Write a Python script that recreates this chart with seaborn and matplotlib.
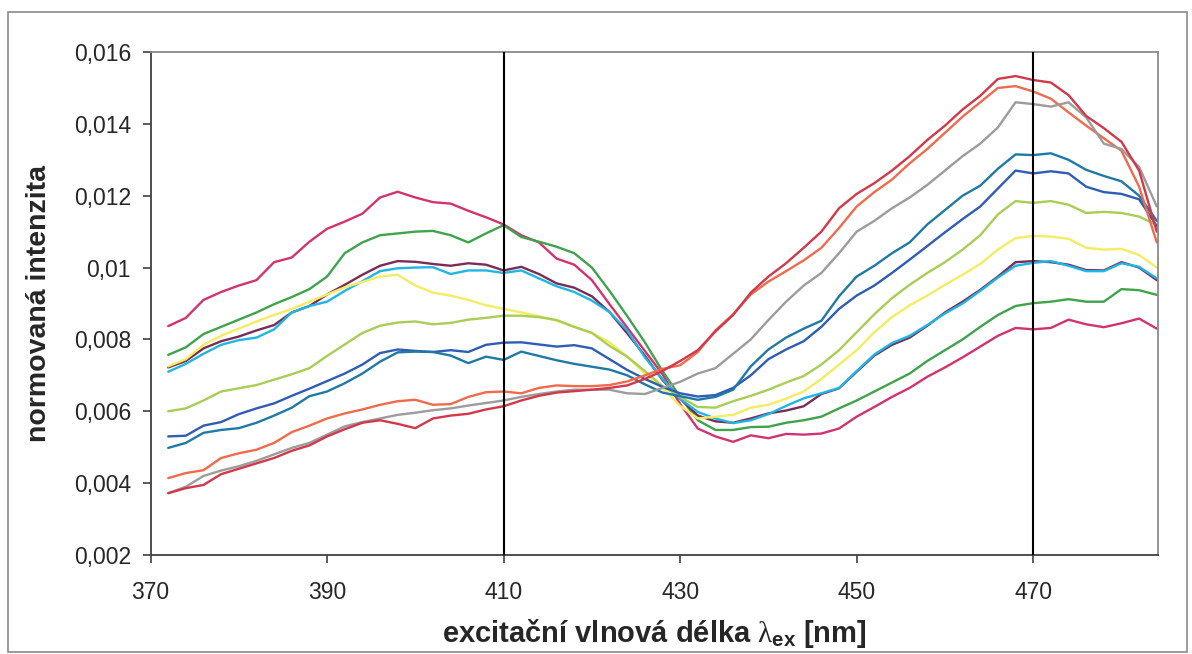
import numpy as np
import pandas as pd
import matplotlib
matplotlib.use("Agg")
import matplotlib.pyplot as plt
import seaborn as sns

# ---------------- data ----------------
wavelength = list(range(372, 486, 2))  # 372 ... 484 nm

magenta = [0.00837, 0.00860, 0.00910, 0.00932, 0.00950, 0.00965, 0.01015, 0.01028, 0.01072, 0.01108,
           0.01128, 0.01150, 0.01195, 0.01211, 0.01195, 0.01182, 0.01178, 0.01158, 0.01140, 0.01120,
           0.01090, 0.01070, 0.01025, 0.01008, 0.00965, 0.00898, 0.00833, 0.00768, 0.00703, 0.00620,
           0.00552, 0.00530, 0.00515, 0.00533, 0.00525, 0.00537, 0.00535, 0.00538, 0.00552, 0.00585,
           0.00612, 0.00640, 0.00665, 0.00696, 0.00722, 0.00750, 0.00780, 0.00810, 0.00832, 0.00828,
           0.00832, 0.00855, 0.00842, 0.00834, 0.00845, 0.00858, 0.00830]
green = [0.00757, 0.00778, 0.00815, 0.00835, 0.00855, 0.00875, 0.00898, 0.00918, 0.00940, 0.00975,
         0.01040, 0.01070, 0.01090, 0.01095, 0.01100, 0.01102, 0.01090, 0.01070, 0.01095, 0.01118,
         0.01085, 0.01072, 0.01058, 0.01040, 0.01000, 0.00935, 0.00865, 0.00792, 0.00712, 0.00640,
         0.00575, 0.00548, 0.00548, 0.00556, 0.00557, 0.00568, 0.00575, 0.00585, 0.00608, 0.00630,
         0.00655, 0.00680, 0.00705, 0.00740, 0.00770, 0.00800, 0.00835, 0.00868, 0.00893, 0.00901,
         0.00905, 0.00912, 0.00905, 0.00905, 0.00940, 0.00937, 0.00924]
purple = [0.00722, 0.00740, 0.00775, 0.00795, 0.00808, 0.00825, 0.00840, 0.00875, 0.00893, 0.00925,
          0.00952, 0.00980, 0.01005, 0.01018, 0.01016, 0.01010, 0.01005, 0.01012, 0.01008, 0.00992,
          0.01002, 0.00982, 0.00956, 0.00944, 0.00920, 0.00876, 0.00817, 0.00755, 0.00687, 0.00635,
          0.00588, 0.00572, 0.00568, 0.00580, 0.00594, 0.00602, 0.00614, 0.00648, 0.00664, 0.00710,
          0.00755, 0.00785, 0.00805, 0.00838, 0.00875, 0.00905, 0.00938, 0.00975, 0.01015, 0.01018,
          0.01015, 0.01008, 0.00993, 0.00992, 0.01015, 0.01000, 0.00965]
cyan = [0.00710, 0.00732, 0.00760, 0.00785, 0.00798, 0.00805, 0.00828, 0.00875, 0.00893, 0.00905,
        0.00935, 0.00962, 0.00990, 0.00998, 0.01000, 0.01001, 0.00982, 0.00992, 0.00992, 0.00985,
        0.00992, 0.00970, 0.00948, 0.00932, 0.00908, 0.00876, 0.00825, 0.00750, 0.00690, 0.00635,
        0.00598, 0.00580, 0.00567, 0.00575, 0.00592, 0.00615, 0.00636, 0.00650, 0.00665, 0.00712,
        0.00758, 0.00790, 0.00810, 0.00840, 0.00872, 0.00900, 0.00935, 0.00972, 0.01005, 0.01013,
        0.01018, 0.01005, 0.00990, 0.00990, 0.01012, 0.01002, 0.00970]
yellow = [0.00725, 0.00745, 0.00785, 0.00810, 0.00830, 0.00850, 0.00868, 0.00885, 0.00905, 0.00925,
          0.00945, 0.00960, 0.00975, 0.00980, 0.00950, 0.00930, 0.00922, 0.00910, 0.00895, 0.00885,
          0.00875, 0.00865, 0.00852, 0.00835, 0.00818, 0.00792, 0.00752, 0.00705, 0.00665, 0.00615,
          0.00580, 0.00585, 0.00590, 0.00610, 0.00618, 0.00635, 0.00655, 0.00690, 0.00730, 0.00770,
          0.00820, 0.00862, 0.00895, 0.00922, 0.00952, 0.00980, 0.01010, 0.01050, 0.01082, 0.01088,
          0.01086, 0.01080, 0.01055, 0.01050, 0.01052, 0.01035, 0.01000]
yellowgreen = [0.00600, 0.00608, 0.00630, 0.00655, 0.00664, 0.00673, 0.00688, 0.00703, 0.00720, 0.00754,
               0.00786, 0.00818, 0.00838, 0.00847, 0.00850, 0.00842, 0.00846, 0.00855, 0.00860, 0.00866,
               0.00866, 0.00862, 0.00854, 0.00835, 0.00818, 0.00782, 0.00752, 0.00712, 0.00670, 0.00640,
               0.00612, 0.00610, 0.00628, 0.00643, 0.00660, 0.00680, 0.00698, 0.00730, 0.00770, 0.00820,
               0.00870, 0.00915, 0.00952, 0.00985, 0.01015, 0.01050, 0.01090, 0.01148, 0.01185, 0.01180,
               0.01185, 0.01175, 0.01152, 0.01155, 0.01152, 0.01142, 0.01118]
darkblue = [0.00530, 0.00532, 0.00560, 0.00570, 0.00592, 0.00608, 0.00622, 0.00643, 0.00663, 0.00684,
            0.00705, 0.00730, 0.00762, 0.00772, 0.00768, 0.00765, 0.00770, 0.00765, 0.00785, 0.00791,
            0.00792, 0.00786, 0.00780, 0.00784, 0.00775, 0.00745, 0.00715, 0.00690, 0.00668, 0.00650,
            0.00641, 0.00645, 0.00665, 0.00700, 0.00745, 0.00772, 0.00795, 0.00835, 0.00885, 0.00922,
            0.00950, 0.00985, 0.01022, 0.01060, 0.01098, 0.01135, 0.01170, 0.01220, 0.01270, 0.01262,
            0.01268, 0.01262, 0.01225, 0.01210, 0.01205, 0.01190, 0.01115]
teal = [0.00498, 0.00512, 0.00540, 0.00548, 0.00553, 0.00568, 0.00588, 0.00610, 0.00642, 0.00655,
        0.00678, 0.00705, 0.00738, 0.00764, 0.00766, 0.00765, 0.00755, 0.00734, 0.00752, 0.00743,
        0.00766, 0.00754, 0.00742, 0.00732, 0.00724, 0.00716, 0.00700, 0.00675, 0.00652, 0.00642,
        0.00632, 0.00640, 0.00660, 0.00725, 0.00772, 0.00805, 0.00830, 0.00852, 0.00920, 0.00975,
        0.01005, 0.01040, 0.01070, 0.01120, 0.01160, 0.01200, 0.01228, 0.01275, 0.01315, 0.01313,
        0.01318, 0.01300, 0.01272, 0.01255, 0.01240, 0.01200, 0.01130]
orange = [0.00414, 0.00428, 0.00436, 0.00470, 0.00483, 0.00493, 0.00512, 0.00542, 0.00560, 0.00580,
          0.00594, 0.00605, 0.00618, 0.00628, 0.00632, 0.00618, 0.00620, 0.00640, 0.00653, 0.00655,
          0.00650, 0.00665, 0.00672, 0.00670, 0.00670, 0.00673, 0.00683, 0.00700, 0.00718, 0.00728,
          0.00765, 0.00825, 0.00870, 0.00925, 0.00961, 0.00990, 0.01020, 0.01055, 0.01110, 0.01170,
          0.01210, 0.01245, 0.01290, 0.01330, 0.01375, 0.01420, 0.01460, 0.01500, 0.01505, 0.01490,
          0.01470, 0.01432, 0.01395, 0.01360, 0.01325, 0.01225, 0.01070]
gray = [0.00372, 0.00390, 0.00420, 0.00435, 0.00447, 0.00462, 0.00480, 0.00498, 0.00512, 0.00535,
        0.00558, 0.00570, 0.00580, 0.00590, 0.00596, 0.00603, 0.00608, 0.00616, 0.00623, 0.00630,
        0.00640, 0.00648, 0.00655, 0.00660, 0.00660, 0.00660, 0.00650, 0.00648, 0.00665, 0.00682,
        0.00705, 0.00720, 0.00760, 0.00800, 0.00854, 0.00905, 0.00950, 0.00985, 0.01040, 0.01100,
        0.01130, 0.01165, 0.01195, 0.01230, 0.01270, 0.01310, 0.01345, 0.01390, 0.01460, 0.01455,
        0.01448, 0.01460, 0.01418, 0.01345, 0.01330, 0.01280, 0.01170]
red = [0.00372, 0.00386, 0.00395, 0.00425, 0.00440, 0.00455, 0.00470, 0.00490, 0.00505, 0.00530,
       0.00550, 0.00568, 0.00575, 0.00565, 0.00553, 0.00580, 0.00588, 0.00593, 0.00605, 0.00614,
       0.00630, 0.00643, 0.00652, 0.00656, 0.00660, 0.00665, 0.00672, 0.00690, 0.00712, 0.00740,
       0.00770, 0.00822, 0.00868, 0.00930, 0.00975, 0.01012, 0.01055, 0.01100, 0.01165, 0.01205,
       0.01235, 0.01270, 0.01310, 0.01355, 0.01395, 0.01440, 0.01478, 0.01525, 0.01533, 0.01522,
       0.01515, 0.01480, 0.01422, 0.01388, 0.01350, 0.01270, 0.01100]

series_names = ["magenta", "green", "purple", "cyan", "yellow", "yellowgreen",
                "darkblue", "teal", "orange", "gray", "red"]
series_values = [magenta, green, purple, cyan, yellow, yellowgreen,
                 darkblue, teal, orange, gray, red]
series_colors = ["#D2336F", "#3FA34C", "#7A2C56", "#1FB6E6", "#F4EC62", "#A8CE55",
                 "#2F5CB4", "#1F79A6", "#F06A4C", "#9C9C9C", "#D2384A"]

marker_lines = [410, 470]
x_ticks = [370, 390, 410, 430, 450, 470]
y_ticks = [0.002, 0.004, 0.006, 0.008, 0.010, 0.012, 0.014, 0.016]
y_tick_labels = ["0,002", "0,004", "0,006", "0,008", "0,01", "0,012", "0,014", "0,016"]
x_label = r"excitační vlnová délka $\lambda_{\mathbf{ex}}$ [nm]"
y_label = "normovaná intenzita"

# ---------------- plot ----------------
sns.set_style("white")
plt.rcParams["font.family"] = ["Liberation Sans", "DejaVu Sans"]
plt.rcParams["mathtext.fontset"] = "custom"
plt.rcParams["mathtext.it"] = "Liberation Serif"
plt.rcParams["mathtext.rm"] = "Liberation Serif"
plt.rcParams["mathtext.bf"] = "Liberation Sans:bold"

rows = []
for name, vals in zip(series_names, series_values):
    for x, v in zip(wavelength, vals):
        rows.append((name, x, v))
df = pd.DataFrame(rows, columns=["series", "wavelength", "value"])

fig = plt.figure(figsize=(11.92, 6.54), dpi=100)
ax = fig.add_axes([0.1263, 0.1514, 0.9712 - 0.1263, 0.9205 - 0.1514])

sns.lineplot(data=df, x="wavelength", y="value", hue="series",
             hue_order=series_names, palette=dict(zip(series_names, series_colors)),
             linewidth=1.7, legend=False, ax=ax, sort=True)

for xv in marker_lines:
    ax.axvline(xv, color="black", linewidth=1.5, zorder=5)

ax.set_xlim(370, 484.1)
ax.set_ylim(0.002, 0.016)
ax.set_xticks(x_ticks)
ax.set_xticklabels([str(t) for t in x_ticks], fontsize=16.5)
ax.set_yticks(y_ticks)
ax.set_yticklabels(y_tick_labels, fontsize=16.5)
ax.tick_params(axis="both", direction="out", length=6, width=1.2, color="#404040",
               left=True, bottom=True)
ax.tick_params(axis="y", pad=8)
ax.tick_params(axis="x", pad=13)

for side in ["left", "bottom"]:
    ax.spines[side].set_color("#404040")
    ax.spines[side].set_linewidth(1.3)
for side in ["top", "right"]:
    ax.spines[side].set_color("#8a8a8a")
    ax.spines[side].set_linewidth(1.3)
    ax.spines[side].set_visible(True)

ax.set_xlabel(x_label, fontsize=21, fontweight="bold", labelpad=9)
ax.set_ylabel(y_label, fontsize=20.5, fontweight="bold", labelpad=16)

# outer chart frame
frame = plt.Rectangle((8 / 1192, 2 / 654), (1187 - 8) / 1192, (642 - 2) / 654,
                      transform=fig.transFigure, fill=False, edgecolor="#8a8a8a",
                      linewidth=1.2)
fig.patches.append(frame)

fig.savefig("out.png", dpi=100)
